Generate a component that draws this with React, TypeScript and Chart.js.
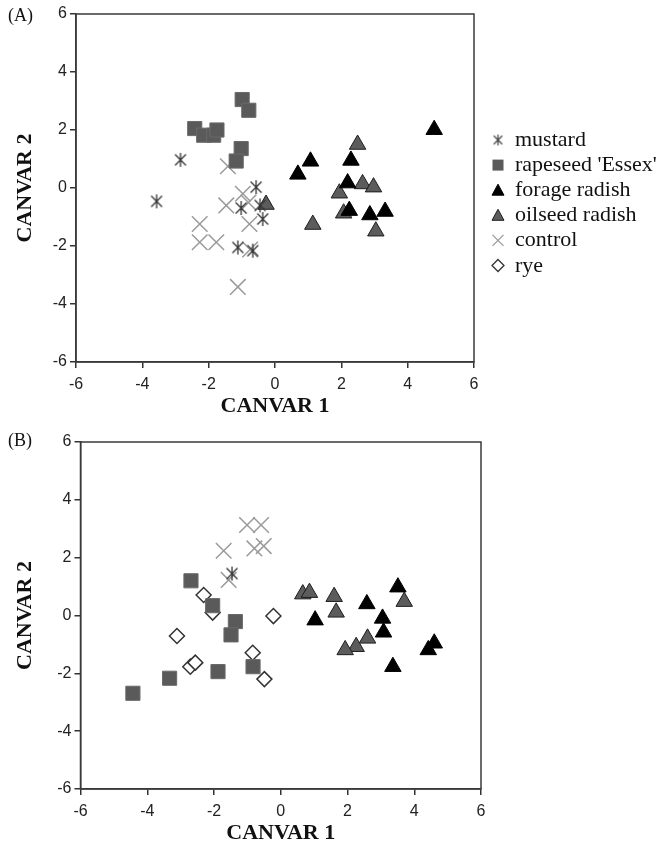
import React, { useEffect, useRef } from "react";
import { Chart, registerables } from "chart.js";

Chart.register(...registerables);

// ---------- data ----------
const seriesNames = ["mustard", "rapeseed 'Essex'", "forage radish", "oilseed radish", "control", "rye"];
const axisXTitle = "CANVAR 1";
const axisYTitle = "CANVAR 2";
const tickValues = [-6, -4, -2, 0, 2, 4, 6];

// Panel (A)
const mustardA: [number, number][] = [
  [-3.57, -0.46], [-2.85, 0.97], [-1.02, -0.69], [-0.57, 0.03],
  [-0.45, -0.6], [-0.37, -1.07], [-1.12, -2.05], [-0.67, -2.16],
];
const rapeseedA: [number, number][] = [
  [-0.99, 3.05], [-0.79, 2.68], [-2.42, 2.05], [-2.15, 1.82],
  [-1.85, 1.82], [-1.75, 2.0], [-1.02, 1.36], [-1.17, 0.93],
];
const forageA: [number, number][] = [
  [4.8, 2.01], [1.07, 0.92], [2.29, 0.95], [0.69, 0.47],
  [2.19, 0.17], [2.24, -0.78], [2.86, -0.93], [3.32, -0.81],
];
const oilseedA: [number, number][] = [
  [2.49, 1.5], [2.64, 0.14], [2.97, 0.03], [1.94, -0.18],
  [2.07, -0.87], [1.14, -1.26], [3.04, -1.49], [-0.27, -0.57],
];
const controlA: [number, number][] = [
  [-1.42, 0.75], [-0.97, -0.2], [-1.47, -0.6], [-0.8, -0.5],
  [-0.77, -1.24], [-2.27, -1.24], [-2.27, -1.87], [-1.77, -1.87],
  [-1.12, -3.41], [-0.75, -2.12],
];
const ryeA: [number, number][] = [];

// Panel (B)
const mustardB: [number, number][] = [[-1.46, 1.45]];
const rapeseedB: [number, number][] = [
  [-2.69, 1.2], [-2.04, 0.34], [-1.36, -0.21], [-1.49, -0.67],
  [-1.88, -1.94], [-0.83, -1.77], [-3.33, -2.17], [-4.43, -2.69],
];
const forageB: [number, number][] = [
  [1.03, -0.16], [2.58, 0.4], [3.51, 0.98], [3.05, -0.1],
  [3.08, -0.58], [4.6, -0.96], [4.42, -1.19], [3.36, -1.77],
];
const oilseedB: [number, number][] = [
  [0.66, 0.74], [0.86, 0.79], [1.6, 0.65], [1.66, 0.11],
  [3.7, 0.48], [2.6, -0.79], [2.26, -1.08], [1.93, -1.19],
];
const controlB: [number, number][] = [
  [-1.01, 3.13], [-0.59, 3.13], [-0.79, 2.32], [-0.51, 2.4],
  [-1.71, 2.24], [-1.56, 1.23],
];
const ryeB: [number, number][] = [
  [-2.31, 0.71], [-2.04, 0.1], [-0.22, -0.02], [-3.11, -0.71],
  [-2.71, -1.77], [-2.56, -1.63], [-0.84, -1.29], [-0.49, -2.2],
];

// ---------- styling helpers ----------
function makeAsterisk(size: number, color: string, lw: number): HTMLCanvasElement {
  const c = document.createElement("canvas");
  c.width = size;
  c.height = size;
  const ctx = c.getContext("2d")!;
  ctx.strokeStyle = color;
  ctx.lineWidth = lw;
  const m = size / 2;
  const r = size / 2 - 1;
  const d = r * 0.78;
  ctx.beginPath();
  ctx.moveTo(m, m - r); ctx.lineTo(m, m + r);
  ctx.moveTo(m - d, m - d); ctx.lineTo(m + d, m + d);
  ctx.moveTo(m + d, m - d); ctx.lineTo(m - d, m + d);
  ctx.stroke();
  return c;
}

const toPts = (a: [number, number][]) => a.map(([x, y]) => ({ x, y }));

function buildDatasets(sets: [number, number][][], asterisk: HTMLCanvasElement) {
  const [mu, ra, fo, oi, co, ry] = sets;
  return [
    { label: seriesNames[0], data: toPts(mu), pointStyle: asterisk as any, pointRadius: 8, borderColor: "#333", backgroundColor: "#333" },
    { label: seriesNames[1], data: toPts(ra), pointStyle: "rect", pointRadius: 10, backgroundColor: "#5a5a5a", borderColor: "#6a6a6a", borderWidth: 1 },
    { label: seriesNames[2], data: toPts(fo), pointStyle: "triangle", pointRadius: 9.5, backgroundColor: "#000", borderColor: "#000", borderWidth: 1 },
    { label: seriesNames[3], data: toPts(oi), pointStyle: "triangle", pointRadius: 9.5, backgroundColor: "#5c5c5c", borderColor: "#1e1e1e", borderWidth: 1 },
    { label: seriesNames[4], data: toPts(co), pointStyle: "crossRot", pointRadius: 11, backgroundColor: "#9a9a9a", borderColor: "#9a9a9a", borderWidth: 1.5 },
    { label: seriesNames[5], data: toPts(ry), pointStyle: "rectRot", pointRadius: 7.5, backgroundColor: "#fff", borderColor: "#333", borderWidth: 1.5 },
  ];
}

function drawLegendSymbol(ctx: CanvasRenderingContext2D, i: number, x: number, y: number, small: HTMLCanvasElement) {
  ctx.save();
  ctx.beginPath();
  const s = 5.5;
  if (i === 0) {
    ctx.drawImage(small, x - small.width / 2, y - small.height / 2);
  } else if (i === 1) {
    ctx.fillStyle = "#5a5a5a";
    ctx.fillRect(x - s, y - s, 2 * s, 2 * s);
  } else if (i === 2 || i === 3) {
    ctx.moveTo(x, y - 6);
    ctx.lineTo(x + 6, y + 5);
    ctx.lineTo(x - 6, y + 5);
    ctx.closePath();
    ctx.fillStyle = i === 2 ? "#000" : "#5c5c5c";
    ctx.fill();
    ctx.strokeStyle = i === 2 ? "#000" : "#1e1e1e";
    ctx.lineWidth = 1;
    ctx.stroke();
  } else if (i === 4) {
    ctx.moveTo(x - s, y - s); ctx.lineTo(x + s, y + s);
    ctx.moveTo(x + s, y - s); ctx.lineTo(x - s, y + s);
    ctx.strokeStyle = "#9a9a9a";
    ctx.lineWidth = 1.3;
    ctx.stroke();
  } else {
    ctx.moveTo(x, y - 6); ctx.lineTo(x + 6, y); ctx.lineTo(x, y + 6); ctx.lineTo(x - 6, y);
    ctx.closePath();
    ctx.fillStyle = "#fff";
    ctx.fill();
    ctx.strokeStyle = "#333";
    ctx.lineWidth = 1.3;
    ctx.stroke();
  }
  ctx.restore();
}

interface PanelOpts {
  panelLabel: string;
  width: number;
  height: number;
  yAxisWidth: number;
  xAxisHeight: number;
  padTop: number;
  padRight: number;
  xTitlePadBottom: number;
  showLegend: boolean;
}

function makeChart(canvas: HTMLCanvasElement, sets: [number, number][][], o: PanelOpts) {
  const asterisk = makeAsterisk(16, "#333", 1.3);
  const smallAst = makeAsterisk(13, "#444", 1.2);
  const framePlugin = {
    id: "frame",
    afterDraw(chart: any) {
      const { ctx, chartArea } = chart;
      ctx.save();
      ctx.strokeStyle = "#3a3a3a";
      ctx.lineWidth = 1.5;
      ctx.strokeRect(chartArea.left, chartArea.top, chartArea.right - chartArea.left, chartArea.bottom - chartArea.top);
      ctx.fillStyle = "#111";
      ctx.font = '18px "Liberation Serif"';
      ctx.textBaseline = "alphabetic";
      ctx.textAlign = "left";
      ctx.fillText(o.panelLabel, 8, 21);
      if (o.showLegend) {
        const symX = chartArea.right + 24;
        const txtX = chartArea.right + 41;
        ctx.font = '22px "Liberation Serif"';
        seriesNames.forEach((name, i) => {
          const y = 141 + 25.1 * i;
          drawLegendSymbol(ctx, i, symX, y - 1, smallAst);
          ctx.fillStyle = "#111";
          ctx.fillText(name, txtX, y + 5);
        });
      }
      ctx.restore();
    },
  };

  const tickFont = { family: '"Liberation Sans", Arial, sans-serif', size: 16 };
  const titleFont = { family: '"Liberation Serif", "Times New Roman", serif', size: 22, weight: "bold" as const };

  return new Chart(canvas, {
    type: "scatter",
    data: { datasets: buildDatasets(sets, asterisk) as any },
    options: {
      responsive: false,
      animation: false,
      devicePixelRatio: 1,
      layout: { padding: { top: o.padTop, right: o.padRight, left: 0, bottom: 0 } },
      plugins: { legend: { display: false }, tooltip: { enabled: false } },
      scales: {
        x: {
          type: "linear",
          min: -6,
          max: 6,
          afterBuildTicks: (s: any) => { s.ticks = tickValues.map((v) => ({ value: v })); },
          afterFit: (s: any) => { s.height = o.xAxisHeight; },
          ticks: { color: "#222", font: tickFont, padding: 7, callback: (v: any) => String(v) },
          grid: { drawOnChartArea: false, drawTicks: true, tickLength: 6, color: "#333", lineWidth: 1.5 },
          border: { display: true, color: "#3a3a3a", width: 1.5 },
          title: { display: true, text: axisXTitle, color: "#111", font: titleFont, padding: { top: 0, bottom: o.xTitlePadBottom } },
        },
        y: {
          type: "linear",
          min: -6,
          max: 6,
          afterBuildTicks: (s: any) => { s.ticks = tickValues.map((v) => ({ value: v })); },
          afterFit: (s: any) => { s.width = o.yAxisWidth; },
          ticks: { color: "#222", font: tickFont, padding: 3, callback: (v: any) => String(v) },
          grid: { drawOnChartArea: false, drawTicks: true, tickLength: 6, color: "#333", lineWidth: 1.5 },
          border: { display: true, color: "#3a3a3a", width: 1.5 },
          title: { display: true, text: axisYTitle, color: "#111", font: titleFont, padding: { top: 12, bottom: 0 } },
        },
      },
    },
    plugins: [framePlugin],
  });
}

export default function App() {
  const refA = useRef<HTMLCanvasElement>(null);
  const refB = useRef<HTMLCanvasElement>(null);

  useEffect(() => {
    const a = makeChart(refA.current!, [mustardA, rapeseedA, forageA, oilseedA, controlA, ryeA], {
      panelLabel: "(A)", width: 664, height: 425, yAxisWidth: 76, xAxisHeight: 63,
      padTop: 14, padRight: 190, xTitlePadBottom: 5.8, showLegend: true,
    });
    const b = makeChart(refB.current!, [mustardB, rapeseedB, forageB, oilseedB, controlB, ryeB], {
      panelLabel: "(B)", width: 664, height: 424, yAxisWidth: 80.5, xAxisHeight: 60,
      padTop: 17, padRight: 183, xTitlePadBottom: 2.8, showLegend: false,
    });
    return () => { a.destroy(); b.destroy(); };
  }, []);

  return (
    <div style={{ position: "absolute", left: 0, top: 0, width: 664, height: 849, background: "#fff" }}>
      <canvas ref={refA} width={664} height={425} style={{ position: "absolute", left: 0, top: 0, width: 664, height: 425 }} />
      <canvas ref={refB} width={664} height={424} style={{ position: "absolute", left: 0, top: 425, width: 664, height: 424 }} />
    </div>
  );
}
